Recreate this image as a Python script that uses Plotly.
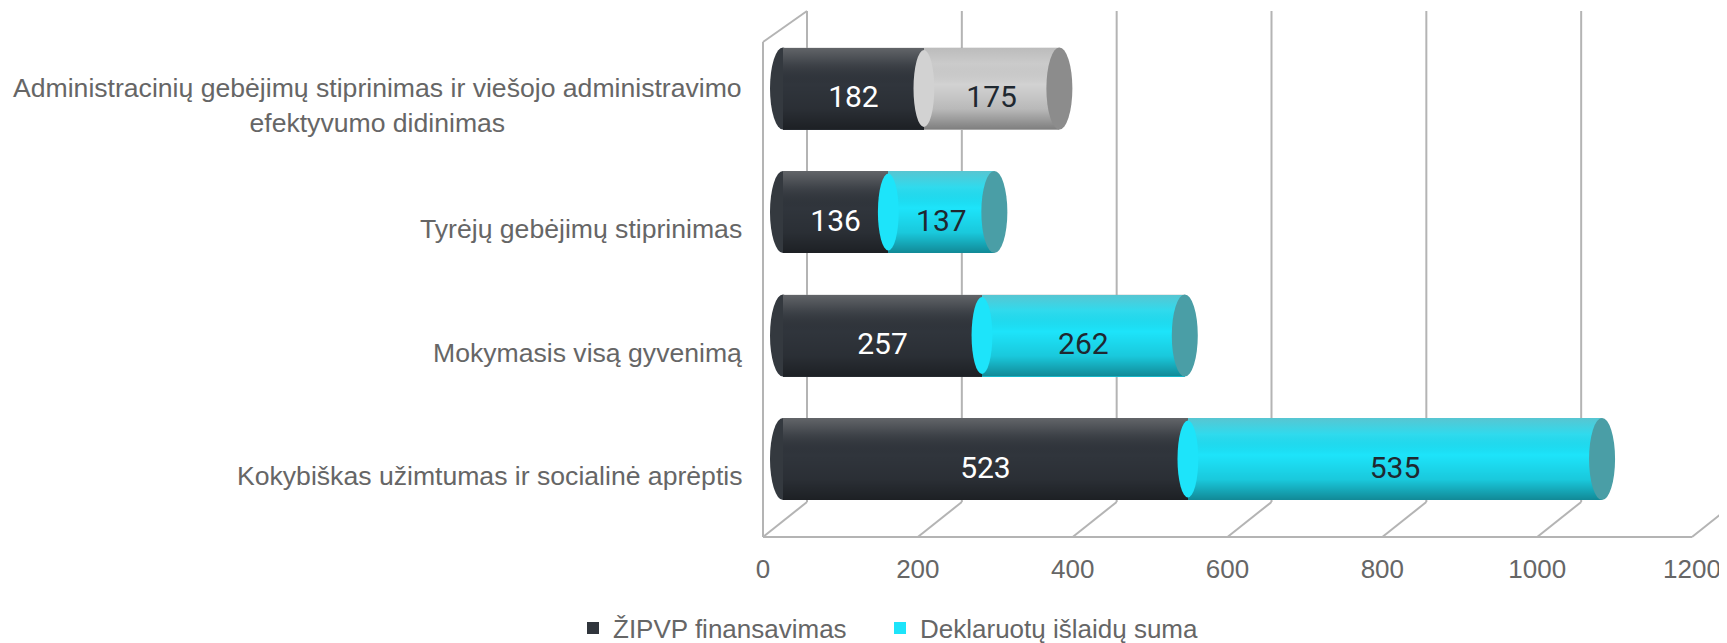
import plotly.graph_objects as go

# ---------------- data ----------------
categories = [
    "Kokybiškas užimtumas ir socialinė aprėptis",
    "Mokymasis visą gyvenimą",
    "Tyrėjų gebėjimų stiprinimas",
    "Administracinių gebėjimų stiprinimas ir viešojo administravimo<br>efektyvumo didinimas",
]
zipvp = [523, 257, 136, 182]
deklaruota = [535, 262, 137, 175]
series_names = ["ŽIPVP finansavimas", "Deklaruotų išlaidų suma"]
x_ticks = [0, 200, 400, 600, 800, 1000, 1200]

# ---------------- styling / layout geometry ----------------
OFF = 8                                       # page body margin
W, H = 1727, 643
PL, PR, PT, PB = 763 - OFF, 1692 - OFF, 11 - OFF, 537 - OFF   # plot area (front plane)
XMAX = 1200
PXU = (PR - PL) / XMAX                        # px per unit
BAR_SHIFT = 20 / PXU                          # bars sit a bit behind the front plane
DEPTH_X, DEPTH_Y = 44, 35                     # 3D depth offset (px)
ROW = 123.5                                   # px per category
R0 = -(537 - 459) / ROW
R1 = R0 + (PB - PT) / ROW
BW = 82 / ROW                                 # bar thickness (units)
CAP = 13 / PXU                                # ellipse semi-axis (units)

dark = "#30353c"
cyan = "#1de4fa"
light = "#d2d2d2"
seg2_colors = [cyan, cyan, cyan, light]
cap_colors = ["#4a9ea6", "#4a9ea6", "#4a9ea6", "#8c8c8c"]
grid_col = "#b4b4b4"
text_gray = "#666666"
FONT = "Liberation Sans, Arial"

ypos = list(range(len(categories)))
totals = [a + b for a, b in zip(zipvp, deklaruota)]

fig = go.Figure()

# invisible trace so the front (tick) axis is drawn
fig.add_trace(go.Scatter(x=[0, XMAX], y=[R0, R0], mode="markers",
                         marker=dict(opacity=0), xaxis="x", yaxis="y",
                         showlegend=False, hoverinfo="skip"))

fig.add_trace(go.Bar(
    y=ypos, x=zipvp, orientation="h", name=series_names[0],
    marker=dict(color=dark, line=dict(width=0)), width=BW,
    xaxis="x2", yaxis="y", hoverinfo="x+name", legendwidth=262,
))
fig.add_trace(go.Bar(
    y=ypos, x=deklaruota, base=zipvp, orientation="h", name=series_names[1],
    marker=dict(color=seg2_colors, line=dict(width=0)), width=BW,
    xaxis="x2", yaxis="y", hoverinfo="x+name",
))

# cylinder shading overlay
for i, tot in enumerate(totals):
    fig.add_trace(go.Scatter(
        x=[0, tot, tot, 0, 0],
        y=[i - BW / 2, i - BW / 2, i + BW / 2, i + BW / 2, i - BW / 2],
        mode="lines", line=dict(width=0), fill="toself",
        fillgradient=dict(type="vertical", colorscale=[
            [0.0, "rgba(0,0,0,0.40)"],
            [0.25, "rgba(0,0,0,0.12)"],
            [0.55, "rgba(0,0,0,0.0)"],
            [0.8, "rgba(160,160,160,0.14)"],
            [1.0, "rgba(160,160,160,0.45)"],
        ]),
        xaxis="x2", yaxis="y", showlegend=False, hoverinfo="skip",
    ))

# value labels
fig.add_trace(go.Scatter(
    x=[v / 2 for v in zipvp], y=[i - 0.09 for i in ypos],
    mode="text", text=[str(v) for v in zipvp],
    textfont=dict(family="Roboto", size=30, color="white"),
    xaxis="x2", yaxis="y", showlegend=False, hoverinfo="skip",
))
fig.add_trace(go.Scatter(
    x=[a + b / 2 for a, b in zip(zipvp, deklaruota)], y=[i - 0.09 for i in ypos],
    mode="text", text=[str(v) for v in deklaruota],
    textfont=dict(family="Roboto", size=30, color="#1f2830"),
    xaxis="x2", yaxis="y", showlegend=False, hoverinfo="skip",
))

shapes = []
# 3D frame: back gridlines, floor diagonals, left wall
back_floor = DEPTH_Y / (PB - PT)
dx = DEPTH_X / (PR - PL)
for v in x_ticks:
    fx = v / XMAX
    shapes.append(dict(type="line", xref="paper", yref="paper", layer="below",
                       x0=fx, y0=0, x1=fx + dx, y1=back_floor,
                       line=dict(color=grid_col, width=2)))
    if fx + dx <= 1.02:
        shapes.append(dict(type="line", xref="paper", yref="paper", layer="below",
                           x0=fx + dx, y0=back_floor, x1=fx + dx, y1=1,
                           line=dict(color=grid_col, width=2)))
shapes.append(dict(type="line", xref="paper", yref="paper", layer="below",
                   x0=0, y0=0, x1=1, y1=0, line=dict(color=grid_col, width=2)))
front_top = (PB - (PT + 31)) / (PB - PT)
shapes.append(dict(type="line", xref="paper", yref="paper", layer="below",
                   x0=0, y0=0, x1=0, y1=front_top, line=dict(color=grid_col, width=2)))
shapes.append(dict(type="line", xref="paper", yref="paper", layer="below",
                   x0=0, y0=front_top, x1=dx, y1=1, line=dict(color=grid_col, width=2)))

# cylinder ends (left end, segment boundary, right face)
for i in ypos:
    y0, y1 = i - BW / 2, i + BW / 2
    shapes.append(dict(type="circle", xref="x2", yref="y", layer="below",
                       x0=-CAP, x1=CAP, y0=y0, y1=y1,
                       fillcolor="#34393f", line=dict(width=0)))
    shapes.append(dict(type="circle", xref="x2", yref="y", layer="above",
                       x0=zipvp[i] - CAP * 0.8, x1=zipvp[i] + CAP * 0.8,
                       y0=y0 + 0.02, y1=y1 - 0.02,
                       fillcolor=seg2_colors[i], line=dict(width=0)))
    shapes.append(dict(type="circle", xref="x2", yref="y", layer="above",
                       x0=totals[i] - CAP, x1=totals[i] + CAP, y0=y0, y1=y1,
                       fillcolor=cap_colors[i], line=dict(width=0)))

# category labels (front plane)
annotations = []
for i, c in enumerate(categories):
    annotations.append(dict(
        text=c, xref="paper", yref="y", x=(744 - OFF - PL) / (PR - PL), y=i - 0.138,
        xanchor="right", yanchor="middle", align="center", showarrow=False,
        font=dict(family=FONT, size=26.6, color=text_gray),
    ))

fig.update_layout(
    width=W, height=H,
    margin=dict(l=PL, r=W - PR, t=PT, b=H - PB, pad=0, autoexpand=False),
    paper_bgcolor="white", plot_bgcolor="rgba(0,0,0,0)",
    barmode="stack",
    xaxis=dict(range=[0, XMAX], tickvals=x_ticks, ticktext=[str(t) for t in x_ticks],
               showgrid=False, zeroline=False, showline=False, ticks="",
               ticklabelstandoff=14, fixedrange=True,
               tickfont=dict(family=FONT, size=26, color=text_gray)),
    xaxis2=dict(range=[-BAR_SHIFT, XMAX - BAR_SHIFT], overlaying="x", visible=False),
    yaxis=dict(range=[R0, R1], visible=False),
    showlegend=True,
    legend=dict(orientation="h", x=(573 - OFF - PL) / (PR - PL), y=(PB - (628 - OFF)) / (PB - PT),
                xanchor="left", yanchor="middle", traceorder="normal",
                font=dict(family=FONT, size=26, color=text_gray),
                itemsizing="constant"),
    shapes=shapes,
    annotations=annotations,
)

fig.write_html("out.html")
